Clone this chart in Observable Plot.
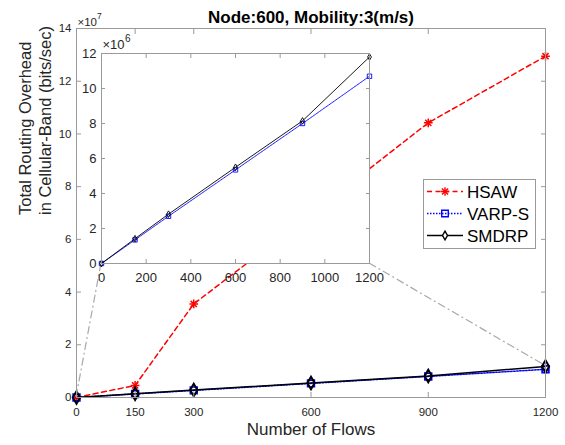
<!DOCTYPE html>
<html><head><meta charset="utf-8">
<script src="https://cdn.jsdelivr.net/npm/d3@7"></script>
<script src="https://cdn.jsdelivr.net/npm/@observablehq/plot@0.6"></script>
<style>
body{margin:0;background:#fff;}
#wrap{position:relative;width:565px;height:445px;overflow:hidden;background:#fff;}
#wrap > svg{position:absolute;left:0;top:0;}
</style></head><body><div id="wrap"></div>
<script>
// ---------- data ----------
const flows = [0, 150, 300, 600, 900, 1200];
const hsaw  = [0, 0.46e7, 3.55e7, 6.95e7, 10.42e7, 12.95e7];
const varps = [0, 1.35e6, 2.70e6, 5.35e6, 8.00e6, 10.70e6];
const smdrp = [0, 1.42e6, 2.82e6, 5.50e6, 8.15e6, 11.80e6];
const seriesNames = ["HSAW", "VARP-S", "SMDRP"];
const mainXTicks = [0, 150, 300, 600, 900, 1200];
const mainYTicks = [0, 2e7, 4e7, 6e7, 8e7, 10e7, 12e7, 14e7];
const insetXTicks = [0, 200, 400, 600, 800, 1000, 1200];
const insetYTicks = [0, 2e6, 4e6, 6e6, 8e6, 10e6, 12e6];
const titleText = "Node:600, Mobility:3(m/s)";
const xLabel = "Number of Flows";
const yLabelLines = ["Total Routing Overhead", "in Cellular-Band (bits/sec)"];

// ---------- styles ----------
const W = 565, H = 445;
const FONT = "'Liberation Sans', Arial, Helvetica, sans-serif";
const TEXT = "#262626", AX = "#9a9a9a";
const values = {"HSAW": hsaw, "VARP-S": varps, "SMDRP": smdrp};
const rowsOf = name => flows.map((f, i) => ({flows: f, value: values[name][i], series: name}));
const sty = {
  "HSAW":   {color: "#ff0000", dash: "5,3.5", width: 1.5},
  "VARP-S": {color: "#0000ff", dash: "1.5,1.5", width: 1.5},
  "SMDRP":  {color: "#000000", dash: null, width: 1.5}
};

function seriesMarks(name, scale) {
  const d = rowsOf(name), s = sty[name];
  const isMain = scale === "main";
  const out = [Plot.line(d, {x: "flows", y: "value", stroke: s.color,
    strokeWidth: isMain ? s.width : 0.9,
    strokeDasharray: (!isMain && name === "VARP-S") ? "1,0.8" : s.dash})];
  if (name === "HSAW") {
    out.push(Plot.dot(d, {x: "flows", y: "value", symbol: "plus", r: 2.9, stroke: s.color, strokeWidth: 1.5}));
    out.push(Plot.dot(d, {x: "flows", y: "value", symbol: "times", r: 2.9, stroke: s.color, strokeWidth: 1.5}));
  } else if (name === "VARP-S") {
    out.push(Plot.dot(d, {x: "flows", y: "value", symbol: "square", r: isMain ? 3.8 : 2.5, fill: "none", stroke: s.color, strokeWidth: isMain ? 1.7 : 0.9}));
  } else {
    out.push(Plot.dot(d, {x: "flows", y: "value", symbol: "diamond", r: isMain ? 3.8 : 2.0, fill: "none", stroke: s.color, strokeWidth: isMain ? 2 : 0.9}));
  }
  return out;
}

function inTicks(xt, yt, len) {
  return [
    Plot.axisX(xt, {anchor: "bottom", tickSize: -len, fill: "none", stroke: AX, label: null}),
    Plot.axisX(xt, {anchor: "top", tickSize: -len, fill: "none", stroke: AX, label: null}),
    Plot.axisY(yt, {anchor: "left", tickSize: -len, fill: "none", stroke: AX, label: null}),
    Plot.axisY(yt, {anchor: "right", tickSize: -len, fill: "none", stroke: AX, label: null})
  ];
}

// ---------- main chart ----------
const main = Plot.plot({
  width: W, height: H,
  marginLeft: 76, marginRight: 20, marginTop: 28, marginBottom: 48,
  style: {fontFamily: FONT, fontSize: "11.5px", color: TEXT, background: "white"},
  x: {domain: [0, 1200]},
  y: {domain: [0, 14e7]},
  marks: [
    ...seriesNames.flatMap(n => seriesMarks(n, "main")),
    Plot.frame({stroke: AX}),
    ...inTicks(mainXTicks, mainYTicks, 5),
    Plot.axisX(mainXTicks, {anchor: "bottom", tickSize: 0, tickPadding: 10, fill: TEXT, tickFormat: d => String(d), label: null}),
    Plot.axisY(mainYTicks, {anchor: "left", tickSize: 0, tickPadding: 5, fill: TEXT, tickFormat: d => String(d / 1e7), label: null}),
    Plot.text(["×10"], {frameAnchor: "top-left", textAnchor: "start", lineAnchor: "middle", dx: 1, dy: -6.5, fontSize: 11.5, fill: TEXT}),
    Plot.text(["7"], {frameAnchor: "top-left", textAnchor: "start", lineAnchor: "middle", dx: 20.5, dy: -12, fontSize: 8.5, fill: TEXT}),
    Plot.text([titleText], {frameAnchor: "top", lineAnchor: "middle", dy: -11, fontSize: 17, fontWeight: "bold", fill: "#000"}),
    Plot.text([xLabel], {frameAnchor: "bottom", lineAnchor: "middle", dy: 32, fontSize: 17, fill: TEXT}),
    Plot.text([yLabelLines.join("\n")], {frameAnchor: "left", lineAnchor: "middle", rotate: -90, dx: -42, dy: 2, fontSize: 16.5, lineHeight: 1.25, fill: TEXT})
  ]
});

// ---------- inset chart ----------
const inset = Plot.plot({
  width: W, height: H,
  marginLeft: 101, marginRight: 196, marginTop: 53, marginBottom: 182,
  style: {fontFamily: FONT, fontSize: "13px", color: TEXT, background: "transparent"},
  x: {domain: [0, 1200]},
  y: {domain: [0, 12e6]},
  marks: [
    Plot.frame({fill: "white", stroke: "none"}),
    ...seriesMarks("VARP-S", "inset"),
    ...seriesMarks("SMDRP", "inset"),
    Plot.frame({stroke: AX}),
    ...inTicks(insetXTicks, insetYTicks, 4),
    Plot.axisX(insetXTicks, {anchor: "bottom", tickSize: 0, tickPadding: 9, fill: TEXT, tickFormat: d => String(d), label: null}),
    Plot.axisY(insetYTicks, {anchor: "left", tickSize: 0, tickPadding: 5, fill: TEXT, tickFormat: d => String(d / 1e6), label: null}),
    Plot.text(["×10"], {frameAnchor: "top-left", textAnchor: "start", lineAnchor: "middle", dx: 1, dy: -8.5, fontSize: 13, fill: TEXT}),
    Plot.text(["6"], {frameAnchor: "top-left", textAnchor: "start", lineAnchor: "middle", dx: 23.5, dy: -14.5, fontSize: 10, fill: TEXT})
  ]
});

// ---------- connectors (from both charts' scales) ----------
const mx = main.scale("x"), my = main.scale("y"), ix = inset.scale("x"), iy = inset.scale("y");
const conn = d3.create("svg").attr("width", W).attr("height", H);
const segs = [
  [[mx.apply(0), my.apply(0)], [ix.apply(ix.domain[0]), iy.apply(iy.domain[0])]],
  [[ix.apply(ix.domain[1]), iy.apply(iy.domain[0])], [mx.apply(ix.domain[1]), my.apply(iy.domain[1])]]
];
conn.selectAll("line").data(segs).join("line")
  .attr("x1", d => d[0][0]).attr("y1", d => d[0][1])
  .attr("x2", d => d[1][0]).attr("y2", d => d[1][1])
  .attr("stroke", "#a8a8a8").attr("stroke-width", 1.2).attr("stroke-dasharray", "8,3,2,3");

// ---------- legend ----------
const lg = d3.create("svg").attr("width", W).attr("height", H).style("font-family", FONT);
lg.append("rect").attr("x", 423.5).attr("y", 179.5).attr("width", 112).attr("height", 69)
  .attr("fill", "white").attr("stroke", AX);
seriesNames.forEach((n, i) => {
  const s = sty[n], y = 191.5 + i * 22;
  lg.append("line").attr("x1", 427).attr("x2", 463).attr("y1", y).attr("y2", y)
    .attr("stroke", s.color).attr("stroke-width", 1.3).attr("stroke-dasharray", s.dash);
  const g = lg.append("g").attr("transform", `translate(445,${y})`).attr("fill", "none").attr("stroke", s.color).attr("stroke-width", 1.4);
  if (n === "HSAW") {
    g.append("path").attr("d", d3.symbol(d3.symbolPlus, Math.PI * 2.9 * 2.9)());
    g.append("path").attr("d", d3.symbol(d3.symbolTimes, Math.PI * 2.9 * 2.9)());
  } else if (n === "VARP-S") {
    g.append("path").attr("d", d3.symbol(d3.symbolSquare, Math.PI * 3.7 * 3.7)());
  } else {
    g.append("path").attr("d", d3.symbol(d3.symbolDiamond, Math.PI * 2.6 * 2.6)()).attr("fill", "white");
  }
  lg.append("text").attr("x", 467).attr("y", y + 6).attr("font-size", 17).attr("fill", "#000").text(n);
});

const wrap = document.getElementById("wrap");
wrap.append(main, conn.node(), inset, lg.node());
</script></body></html>
